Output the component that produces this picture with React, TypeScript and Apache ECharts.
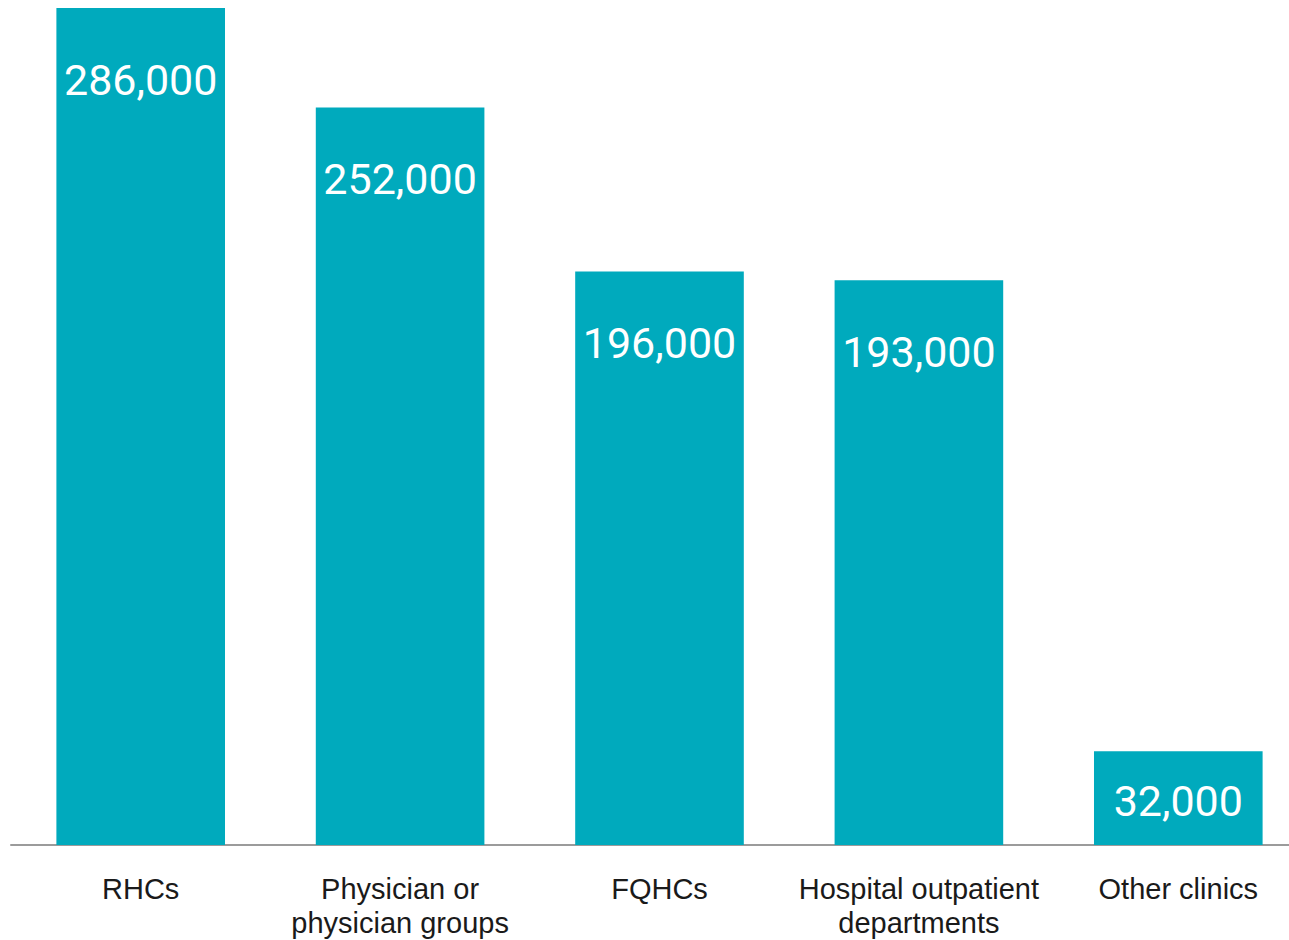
import React, { useEffect, useRef } from "react";
import * as echarts from "echarts";

const categories = [
  "RHCs",
  "Physician or\nphysician groups",
  "FQHCs",
  "Hospital outpatient\ndepartments",
  "Other clinics",
];
const values = [286000, 252000, 196000, 193000, 32000];
const labelInside = [false, false, false, false, true];

export default function App() {
  const ref = useRef<HTMLDivElement>(null);
  useEffect(() => {
    if (!ref.current) return;
    const chart = echarts.init(ref.current, undefined, { renderer: "svg" });
    chart.setOption({
      animation: false,
      grid: { left: 11, right: 13, top: 8, bottom: 93, containLabel: false },
      xAxis: {
        type: "category",
        data: categories,
        axisLine: { show: true, lineStyle: { color: "#9b9b9b", width: 2 } },
        axisTick: { show: false },
        axisLabel: {
          color: "#1a1a1a",
          fontFamily: "Liberation Sans, Arial, sans-serif",
          fontSize: 29,
          lineHeight: 34,
          margin: 27,
          interval: 0,
        },
      },
      yAxis: {
        type: "value",
        min: 0,
        max: 286000,
        show: false,
        splitLine: { show: false },
      },
      series: [
        {
          type: "bar",
          barWidth: "65%",
          itemStyle: { color: "#00aabd" },
          data: values.map((v, i) => ({
            value: v,
            label: labelInside[i]
              ? { position: "inside", offset: [0, 3] }
              : { position: "insideTop", distance: 50 },
          })),
          label: {
            show: true,
            color: "#ffffff",
            fontFamily: "Roboto, Liberation Sans, sans-serif",
            fontSize: 43,
            formatter: (p: any) => p.value.toLocaleString("en-US"),
          },
        },
      ],
    });
    return () => chart.dispose();
  }, []);
  return (
    <div
      style={{
        position: "fixed",
        left: 0,
        top: 0,
        width: 1289,
        height: 940,
        overflow: "hidden",
        background: "#fff",
      }}
    >
      <div ref={ref} style={{ width: 1321, height: 940 }} />
    </div>
  );
}
